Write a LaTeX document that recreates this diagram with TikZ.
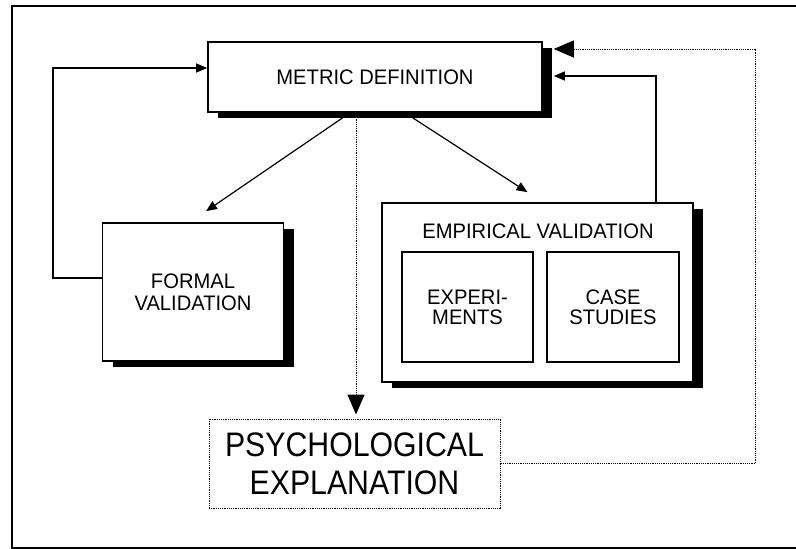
\documentclass[tikz,border=0pt]{standalone}
\usepackage{fontspec}
\setmainfont{Liberation Sans}
\newfontfamily\lblfont[FakeStretch=0.96]{Liberation Sans}
\newfontfamily\psyfont[FakeStretch=0.89]{Liberation Sans}
\usetikzlibrary{arrows.meta,shadows,calc}
\begin{document}
\begin{tikzpicture}[x=1pt,y=-1pt,
  mainbox/.style={draw=black,fill=white,line width=1.6pt,rectangle,inner sep=0pt,
    align=center,font=\lblfont\fontsize{21}{22}\selectfont,
    drop shadow={shadow xshift=10pt,shadow yshift=-6pt,fill=black,opacity=1}},
  innerbox/.style={draw=black,fill=white,line width=1.1pt,rectangle,inner sep=0pt,
    align=center,font=\lblfont\fontsize{21}{20}\selectfont},
  lbl/.style={inner sep=0pt,align=center,font=\lblfont\fontsize{21}{22}\selectfont},
  dotbox/.style={draw=black,dash pattern=on 1.2pt off 1pt,line width=1pt,rectangle,inner sep=0pt,
    align=center,font=\psyfont\fontsize{34}{38}\selectfont},
  arr/.style={line width=1.2pt,-{Triangle[length=11pt,width=9pt]}},
  dotarr/.style={line width=1pt,dash pattern=on 1.2pt off 1pt,-{Triangle[length=20pt,width=17pt]}},
  frameline/.style={line width=1.5pt}
  ]
\useasboundingbox (0,0) rectangle (796,549);
% outer frame
\coordinate (ftl) at (12,6);
\coordinate (ftr) at (796,6);
\coordinate (fbl) at (12,548);
\coordinate (fbr) at (796,548);
\draw[frameline] (ftr) -- (ftl) -- (fbl) -- (fbr);

% boxes
\node[mainbox,minimum width=334pt,minimum height=70pt] (metric) at (375,77) {METRIC DEFINITION};
\node[mainbox,minimum width=181pt,minimum height=138pt] (formal) at (193,292) {FORMAL\\VALIDATION};
\node[mainbox,minimum width=311pt,minimum height=179pt] (emp) at (537.5,292.5) {};
\node[lbl] (emptitle) at (538,231) {EMPIRICAL VALIDATION};
\node[innerbox,minimum width=131pt,minimum height=110pt] (exp) at (467.5,307) {EXPERI-\\MENTS};
\node[innerbox,minimum width=132pt,minimum height=110pt] (case) at (613,307) {CASE\\STUDIES};
\node[dotbox,minimum width=291pt,minimum height=89pt] (psych) at (354.5,463.5) {PSYCHOLOGICAL\\EXPLANATION};

% connectors
\coordinate (lc) at (53,278);
\draw[arr] ([yshift=14pt]formal.west) -- (lc) |- ([yshift=9pt]metric.west);
\draw[arr] ([xshift=-25pt]metric.south) -- ([xshift=13pt,yshift=11pt]formal.north);
\draw[arr] ([xshift=30pt]metric.south) -- ([xshift=-10pt,yshift=10pt]emp.north);
\draw[arr] ([xshift=118.5pt]emp.north) |- ([xshift=11pt,yshift=1pt]metric.east);
\draw[dotarr] ([xshift=1.5pt]metric.south -| psych.north) -- ([xshift=1.5pt,yshift=4pt]psych.north);
\coordinate (cr) at (755,49);
\draw[dotarr] (psych.east) -| (cr) -- ([xshift=11pt]metric.east |- cr);
\end{tikzpicture}
\end{document}
